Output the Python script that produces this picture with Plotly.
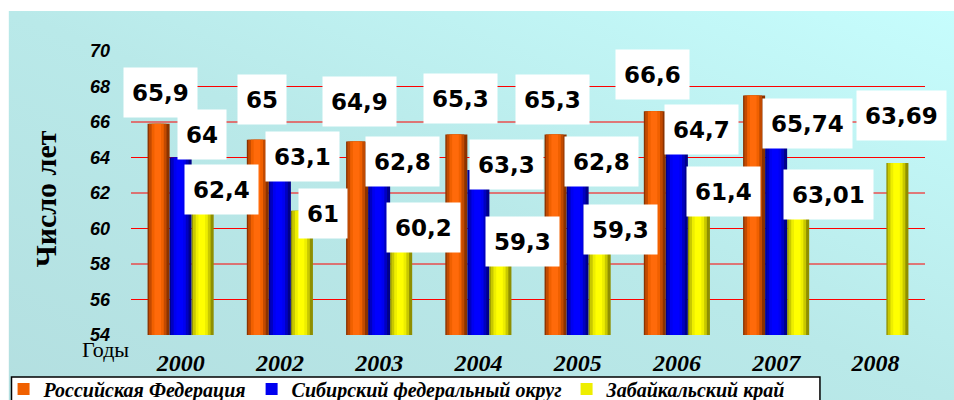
import plotly.graph_objects as go

# ---------------- data ----------------
years = ["2000", "2002", "2003", "2004", "2005", "2006", "2007", "2008"]
russia = [65.9, 65.0, 64.9, 65.3, 65.3, 66.6, 67.5, None]
siberia = [64.0, 63.1, 62.8, 63.3, 62.8, 64.7, 65.74, None]
zabaikal = [62.4, 61.0, 60.2, 59.3, 59.3, 61.4, 63.01, 63.69]

russia_lbl = ["65,9", "65", "64,9", "65,3", "65,3", "66,6", "67,5", ""]
siberia_lbl = ["64", "63,1", "62,8", "63,3", "62,8", "64,7", "65,74", ""]
zabaikal_lbl = ["62,4", "61", "60,2", "59,3", "59,3", "61,4", "63,01", "63,69"]

series_names = ["Российская Федерация", "Сибирский федеральный округ", "Забайкальский край"]
y_ticks = [54, 56, 58, 60, 62, 64, 66, 68, 70]

# --------- label box positions (category-index offset, y) ---------
russia_pos = [(-0.20, 67.69), (0.82, 67.24), (1.80, 67.13), (2.82, 67.30),
              (3.75, 67.24), (4.75, 68.65), (5.77, 70.23), None]
siberia_pos = [(0.22, 65.32), (1.23, 64.08), (2.24, 63.75), (3.28, 63.63),
               (4.24, 63.75), (5.25, 65.55), (6.32, 65.89), None]
zabaikal_pos = [(0.41, 62.17), (1.43, 60.82), (2.45, 60.03), (3.44, 59.24),
                (4.43, 59.92), (5.47, 62.06), (6.53, 61.94), (7.26, 66.34)]

# cylinder shading layers: (relative width, colour)
shades = {
    0: ["#8a3300", "#c24a00", "#f06000", "#ff6a0a"],
    1: ["#00008a", "#0000c0", "#0000f0", "#0000ff"],
    2: ["#8f8f00", "#c8c800", "#eeee00", "#ffff00"],
}
rel_w = [1.0, 0.8, 0.55, 0.3]
bar_w = 0.222
offsets = [-0.333, -0.111, 0.111]

fig = go.Figure()
all_vals = [russia, siberia, zabaikal]
for s, vals in enumerate(all_vals):
    for k, (rw, col) in enumerate(zip(rel_w, shades[s])):
        w = bar_w * rw
        centre = offsets[s] + bar_w * (0.5 if k == 0 else 0.46)
        fig.add_trace(go.Bar(
            x=years, y=[None if v is None else v - 54 for v in vals], base=54,
            width=w, offset=centre - w / 2,
            marker=dict(color=col, line=dict(width=0)),
            name=series_names[s],
            showlegend=(k == 2),
            legendgroup=series_names[s],
            hoverinfo="skip",
        ))

# value label boxes
for lbls, poss in [(russia_lbl, russia_pos), (siberia_lbl, siberia_pos), (zabaikal_lbl, zabaikal_pos)]:
    for t, p in zip(lbls, poss):
        if p is None or not t:
            continue
        fig.add_annotation(
            x=p[0], y=p[1], xref="x", yref="y", text=t, showarrow=False,
            bgcolor="white", borderpad=8, height=33,
            font=dict(family="DejaVu Sans", size=23, color="black", weight="bold"),
        )

# red gridlines (no line at the top tick)
for g in y_ticks[1:-1]:
    fig.add_shape(type="line", xref="paper", yref="y", x0=0, x1=1, y0=g, y1=g,
                  line=dict(color="#ff0000", width=1), layer="below")

# legend frame
fig.add_shape(type="rect", xref="paper", yref="paper",
              x0=-0.1505, x1=0.8677, y0=-0.1479, y1=-0.26,
              fillcolor="white", line=dict(color="black", width=1.5), layer="below")

# background gradient
svg = ("data:image/svg+xml;utf8,"
       "<svg xmlns='http://www.w3.org/2000/svg' width='945' height='389' preserveAspectRatio='none'>"
       "<defs><linearGradient id='g' x1='0' y1='1' x2='1' y2='0'>"
       "<stop offset='0' stop-color='%23b3dfe0'/><stop offset='0.5' stop-color='%23b9e9e9'/>"
       "<stop offset='1' stop-color='%23c6fdfd'/></linearGradient></defs>"
       "<rect width='945' height='389' fill='url(%23g)'/></svg>")
fig.add_layout_image(dict(source=svg, xref="paper", yref="paper",
                          x=-0.1542, y=1.1408, sizex=1.1908, sizey=1.3697,
                          xanchor="left", yanchor="top", sizing="stretch", layer="below"))

fig.add_annotation(text="Число лет", xref="paper", yref="paper",
                   x=-0.1075, y=0.48, xanchor="center", yanchor="middle",
                   textangle=-90, showarrow=False,
                   font=dict(family="Liberation Serif", size=30, color="black", weight="bold"))
fig.add_annotation(text="Годы", xref="paper", yref="paper",
                   x=-0.0325, y=-0.052, xanchor="center", yanchor="middle", showarrow=False,
                   font=dict(family="Liberation Serif", size=22, color="black"))

fig.update_layout(
    width=954, height=400,
    margin=dict(l=131, r=29, t=51, b=65, autoexpand=False),
    paper_bgcolor="white", plot_bgcolor="rgba(0,0,0,0)",
    barmode="overlay",
    legend=dict(orientation="h", x=-0.1605, y=-0.19, xanchor="left", yanchor="middle",
                bgcolor="rgba(0,0,0,0)", borderwidth=0,
                font=dict(family="Liberation Serif", size=20, color="black",
                          weight="bold", style="italic"),
                itemwidth=30, tracegroupgap=0,
                itemclick=False, traceorder="normal"),
    xaxis=dict(type="category", categoryorder="array", categoryarray=years,
               range=[-0.5, 7.5], showgrid=False, zeroline=False, showline=False,
               ticks="", ticklabelstandoff=11,
               tickfont=dict(family="Liberation Serif", size=24, color="black",
                             weight="bold", style="italic")),
    yaxis=dict(range=[54, 70], tickvals=y_ticks, showgrid=False, zeroline=False,
               showline=False, ticks="", ticklabelstandoff=20,
               tickfont=dict(family="Liberation Sans", size=18, color="black",
                             weight="bold", style="italic")),
    showlegend=True,
)

fig.write_html("out.html", config={"displayModeBar": False},
               post_script="document.body.style.margin='0';")
